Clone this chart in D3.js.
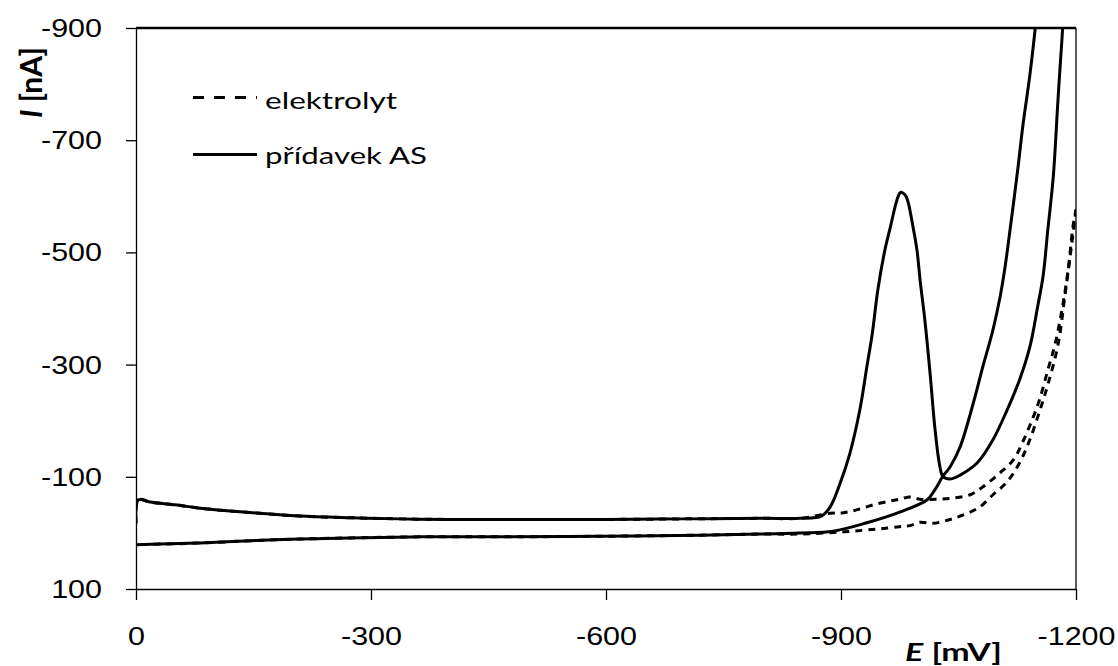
<!DOCTYPE html>
<html>
<head>
<meta charset="utf-8">
<script src="https://cdn.jsdelivr.net/npm/d3@7"></script>
<style>
  body { margin: 0; background: #fff; }
  svg { display: block; }
</style>
</head>
<body>
<svg id="chart" width="1118" height="666"></svg>
<script>
// ---------------- DATA (E in mV, I in nA) ----------------
const E_TICKS = [0, -300, -600, -900, -1200];
const E_TICK_LABELS = ["0", "-300", "-600", "-900", "-1200"];
const I_TICKS = [100, -100, -300, -500, -700, -900];
const I_TICK_LABELS = ["100", "-100", "-300", "-500", "-700", "-900"];
const SERIES_NAMES = ["elektrolyt", "přídavek AS"];

// forward scan baseline shared by both records (0 -> -848 mV)
const upperBaseline = [
  [0, -17], [-3, -59], [-18, -55], [-50, -50], [-82, -44], [-120, -39], [-158, -35],
  [-209, -30], [-273, -27], [-337, -25], [-400, -24], [-500, -24], [-600, -24],
  [-700, -25], [-800, -26], [-848, -26]
];
// reverse scan baseline shared by both records (0 -> -797 mV)
const lowerBaseline = [
  [0, 21], [-31, 20], [-82, 18], [-146, 14], [-209, 11], [-273, 9], [-363, 7],
  [-465, 7], [-592, 6], [-720, 4], [-797, 2]
];
// elektrolyt, forward after baseline
const elektrolytRise = [
  [-886, -35], [-903, -36], [-920, -41], [-941, -50], [-963, -57], [-975, -60],
  [-988, -64], [-1001, -60], [-1023, -60], [-1043, -62], [-1065, -68], [-1081, -82],
  [-1103, -107], [-1120, -130], [-1132, -162], [-1145, -205], [-1154, -240],
  [-1164, -290], [-1173, -335], [-1182, -397], [-1190, -469], [-1196, -545], [-1200, -576]
];
// elektrolyt, reverse from -1200 mV
const elektrolytReturn = [
  [-1200, -576], [-1196, -531], [-1186, -424], [-1177, -335], [-1164, -264],
  [-1154, -219], [-1141, -166], [-1128, -125], [-1112, -91], [-1094, -68],
  [-1077, -46], [-1056, -32], [-1037, -23], [-1017, -17], [-1001, -19], [-988, -13],
  [-975, -11], [-947, -7], [-904, -2], [-848, 2]
];
// přídavek AS, forward: peak, valley, rise
const asPeakRise = [
  [-875, -30], [-886, -46], [-899, -89], [-911, -140], [-924, -219], [-933, -296],
  [-940, -356], [-947, -433], [-956, -504], [-963, -545], [-969, -581], [-973, -600],
  [-976, -607], [-979, -606], [-983, -600], [-986, -588], [-992, -545], [-997, -504],
  [-1001, -450], [-1007, -380], [-1014, -280], [-1020, -185], [-1026, -120],
  [-1030, -101], [-1039, -96], [-1052, -103], [-1074, -125], [-1094, -166],
  [-1112, -219], [-1128, -273], [-1141, -331], [-1151, -403], [-1158, -458],
  [-1164, -540], [-1171, -635], [-1177, -772], [-1183, -900], [-1189, -1000]
];
// přídavek AS, reverse from beyond the top
const asReturn = [
  [-1155, -1000], [-1148, -900], [-1141, -815], [-1132, -724], [-1126, -652],
  [-1113, -510], [-1109, -470], [-1103, -420], [-1094, -362], [-1081, -296],
  [-1069, -232], [-1052, -153], [-1039, -117], [-1030, -101], [-1020, -77],
  [-1010, -59], [-975, -37], [-933, -18], [-890, -3], [-848, 0]
];

const elForward = upperBaseline.concat(elektrolytRise);
const elReverse = elektrolytReturn.concat(lowerBaseline.slice().reverse());
const asForward = upperBaseline.concat(asPeakRise);
const asReverse = asReturn.concat(lowerBaseline.slice().reverse());

// ---------------- CHART ----------------
const svg = d3.select("#chart");
const L = 136, R = 1076, T = 28, B = 589;
const x = d3.scaleLinear().domain([0, -1200]).range([L, R]);
const y = d3.scaleLinear().domain([100, -900]).range([B, T]);

svg.append("defs").append("clipPath").attr("id", "plotclip")
  .append("rect").attr("x", L).attr("y", T).attr("width", R - L).attr("height", B - T);

const line = d3.line().x(d => x(d[0])).y(d => y(d[1])).curve(d3.curveCatmullRom.alpha(0.5));

const curves = [
  { data: elForward, dash: "7,6" },
  { data: elReverse, dash: "7,6" },
  { data: asForward, dash: null },
  { data: asReverse, dash: null }
];
const cg = svg.append("g").attr("clip-path", "url(#plotclip)");
curves.forEach(c => {
  cg.append("path").datum(c.data)
    .attr("d", line)
    .attr("fill", "none")
    .attr("stroke", "#000")
    .attr("stroke-width", 3)
    .attr("stroke-linejoin", "round")
    .attr("stroke-dasharray", c.dash);
});

const SX = 1.22;
// x axis
const gx = svg.append("g").attr("transform", `translate(0,${B})`)
  .call(d3.axisBottom(x).tickValues(E_TICKS).tickSize(11).tickSizeOuter(0)
    .tickFormat((d, i) => E_TICK_LABELS[i]));
gx.attr("font-family", "'Liberation Sans', Arial, sans-serif").attr("font-size", 25).attr("color", "#000");
gx.select(".domain").attr("stroke-width", 1.3);
gx.selectAll(".tick line").attr("stroke-width", 1.3);
gx.selectAll("text").attr("y", 56).attr("dy", 0).attr("transform", `scale(${SX},1)`);

// y axis
const gy = svg.append("g").attr("transform", `translate(${L},0)`)
  .call(d3.axisLeft(y).tickValues(I_TICKS).tickSize(10).tickSizeOuter(0)
    .tickFormat((d, i) => I_TICK_LABELS[i]));
gy.attr("font-family", "'Liberation Sans', Arial, sans-serif").attr("font-size", 25).attr("color", "#000");
gy.select(".domain").attr("stroke-width", 1.3);
gy.selectAll(".tick line").attr("stroke-width", 1.3);
gy.selectAll("text").attr("x", -34 / SX).attr("dy", "0.34em").attr("transform", `scale(${SX},1)`);

// frame top / right
svg.append("line").attr("x1", L).attr("x2", R).attr("y1", T).attr("y2", T)
  .attr("stroke", "#000").attr("stroke-width", 2.6);
svg.append("line").attr("x1", R).attr("x2", R).attr("y1", T).attr("y2", B)
  .attr("stroke", "#000").attr("stroke-width", 1.3);

// helper: stretch text horizontally to a target width
function fitText(t, tx, ty, target) {
  const w = t.node().getComputedTextLength();
  t.attr("transform", `translate(${tx},${ty}) scale(${target / w},1)`);
}

// legend
const legend = [
  { name: SERIES_NAMES[0], dash: "11,10", ly: 97.5, ty: 108.5, w: 132, sw: 3 },
  { name: SERIES_NAMES[1], dash: null, ly: 154.5, ty: 163.5, w: 162, sw: 2.8 }
];
legend.forEach(l => {
  svg.append("line").attr("x1", 193).attr("x2", 257).attr("y1", l.ly).attr("y2", l.ly)
    .attr("stroke", "#000").attr("stroke-width", l.sw).attr("stroke-dasharray", l.dash);
  const t = svg.append("text").attr("font-family", "Lato, 'Open Sans', sans-serif")
    .attr("font-size", 24).attr("fill", "#000").text(l.name);
  fitText(t, 265, l.ty, l.w);
});

// x title
const xt = svg.append("text").attr("font-family", "Lato, 'Open Sans', sans-serif")
  .attr("font-size", 25).attr("font-weight", "bold").attr("fill", "#000");
xt.append("tspan").attr("font-style", "italic").text("E");
xt.append("tspan").text(" [mV]");
fitText(xt, 905, 661, 97);

// y title (rotated)
const yt = svg.append("text").attr("font-family", "Lato, 'Open Sans', sans-serif")
  .attr("font-size", 25).attr("font-weight", "bold").attr("fill", "#000");
yt.append("tspan").attr("font-style", "italic").text("I");
yt.append("tspan").text(" [nA]");
{
  const w = yt.node().getComputedTextLength();
  yt.attr("transform", `translate(42,118) rotate(-90) scale(${71 / w},${SX})`);
}
</script>
</body>
</html>
